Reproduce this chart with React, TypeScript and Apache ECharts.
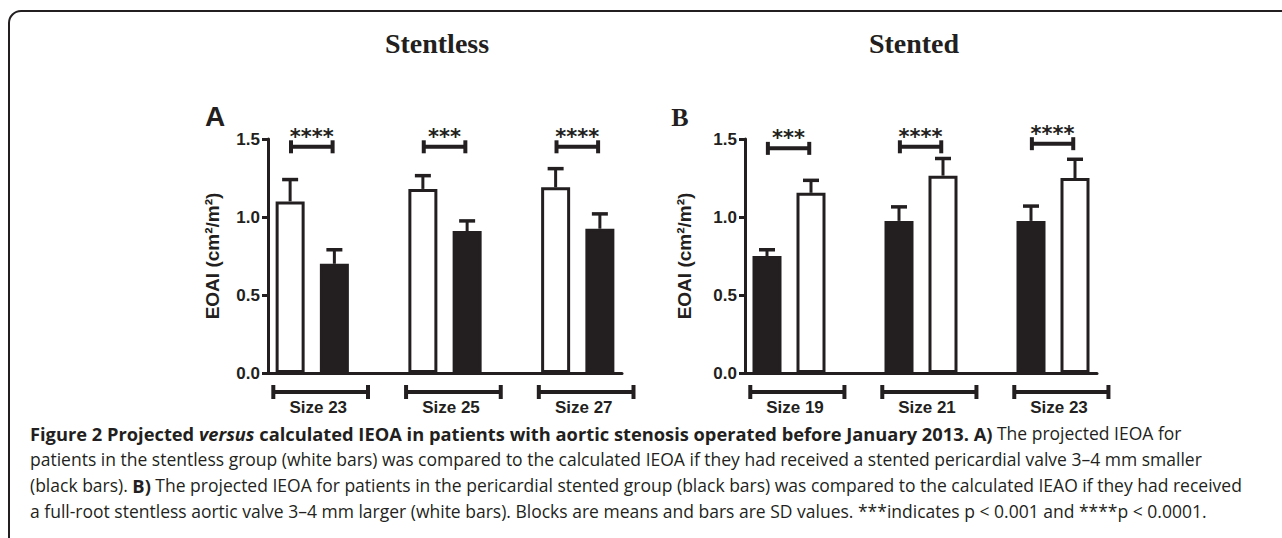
import React, { useEffect, useRef } from "react";
import * as echarts from "echarts";

const INK = "#231f20";

// Panel A – stentless (white = projected stentless, black = calculated stented)
const stentlessSizes = ["Size 23", "Size 25", "Size 27"];
const stentlessWhiteMean = [1.1, 1.18, 1.19];
const stentlessWhiteSD = [0.14, 0.085, 0.12];
const stentlessBlackMean = [0.7, 0.91, 0.925];
const stentlessBlackSD = [0.09, 0.065, 0.095];
const stentlessStars = ["****", "***", "****"];
const stentlessBracketY = [1.45, 1.45, 1.45];

// Panel B – stented (black = projected stented, white = calculated stentless)
const stentedSizes = ["Size 19", "Size 21", "Size 23"];
const stentedBlackMean = [0.75, 0.975, 0.975];
const stentedBlackSD = [0.04, 0.09, 0.095];
const stentedWhiteMean = [1.155, 1.265, 1.25];
const stentedWhiteSD = [0.08, 0.11, 0.12];
const stentedStars = ["***", "****", "****"];
const stentedBracketY = [1.44, 1.45, 1.47];

const yMin = 0;
const yMax = 1.5;
const yStep = 0.5;

const captionLines = [
  [
    ["b", "Figure 2 Projected "],
    ["bi", "versus"],
    ["b", " calculated IEOA in patients with aortic stenosis operated before January 2013. A)"],
    ["n", " The projected IEOA for"],
  ],
  [["n", "patients in the stentless group (white bars) was compared to the calculated IEOA if they had received a stented pericardial valve 3–4 mm smaller"]],
  [
    ["n", "(black bars). "],
    ["b", "B)"],
    ["n", " The projected IEOA for patients in the pericardial stented group (black bars) was compared to the calculated IEAO if they had received"],
  ],
  [["n", "a full-root stentless aortic valve 3–4 mm larger (white bars). Blocks are means and bars are SD values. ***indicates p < 0.001 and ****p < 0.0001."]],
];

const center = (i: number) => 1 + 3 * i;

function buildPanel(
  p: number,
  sizes: string[],
  leftIsWhite: boolean,
  whiteMean: number[],
  whiteSD: number[],
  blackMean: number[],
  blackSD: number[],
  stars: string[],
  bracketY: number[]
) {
  const wOff = leftIsWhite ? -0.5 : 0.5;
  const bOff = -wOff;
  const whiteData = whiteMean.map((m, i) => [center(i) + wOff, m]);
  const blackData = blackMean.map((m, i) => [center(i) + bOff, m]);
  const errData = [
    ...whiteMean.map((m, i) => [center(i) + wOff, m, whiteSD[i]]),
    ...blackMean.map((m, i) => [center(i) + bOff, m, blackSD[i]]),
  ];
  const sigData = sizes.map((_, i) => [center(i), bracketY[i], i]);
  const grpData = sizes.map((_, i) => [center(i), 0]);
  const common = { xAxisIndex: p, yAxisIndex: p };
  return [
    {
      ...common,
      type: "bar",
      data: whiteData,
      barWidth: 29,
      barGap: "-100%",
      itemStyle: { color: "#ffffff", borderColor: INK, borderWidth: 3 },
      silent: true,
    },
    {
      ...common,
      type: "bar",
      data: blackData,
      barWidth: 29,
      barGap: "-100%",
      itemStyle: { color: INK, borderColor: INK, borderWidth: 3 },
      silent: true,
    },
    {
      ...common,
      type: "custom",
      clip: false,
      silent: true,
      encode: { x: 0, y: 1 },
      data: errData,
      renderItem: (params: any, api: any) => {
        const x = api.value(0);
        const m = api.value(1);
        const s = api.value(2);
        const p0 = api.coord([x, m]);
        const p1 = api.coord([x, m + s]);
        return {
          type: "group",
          children: [
            { type: "line", shape: { x1: p0[0], y1: p0[1], x2: p1[0], y2: p1[1] }, style: { stroke: INK, lineWidth: 3 } },
            { type: "line", shape: { x1: p1[0] - 8, y1: p1[1], x2: p1[0] + 8, y2: p1[1] }, style: { stroke: INK, lineWidth: 3.5 } },
          ],
        };
      },
    },
    {
      ...common,
      type: "custom",
      clip: false,
      silent: true,
      encode: { x: 0, y: 1 },
      data: sigData,
      renderItem: (params: any, api: any) => {
        const c = api.value(0);
        const yv = api.value(1);
        const idx = api.value(2);
        const a = api.coord([c - 0.48, yv]);
        const b = api.coord([c + 0.46, yv]);
        return {
          type: "group",
          children: [
            { type: "line", shape: { x1: a[0], y1: a[1], x2: b[0], y2: b[1] }, style: { stroke: INK, lineWidth: 4 } },
            { type: "line", shape: { x1: a[0], y1: a[1] - 6.5, x2: a[0], y2: a[1] + 6.5 }, style: { stroke: INK, lineWidth: 4 } },
            { type: "line", shape: { x1: b[0], y1: b[1] - 6.5, x2: b[0], y2: b[1] + 6.5 }, style: { stroke: INK, lineWidth: 4 } },
            {
              type: "text",
              x: (a[0] + b[0]) / 2,
              y: a[1] - 10,
              style: {
                text: stars[idx],
                fill: INK,
                font: "bold 21px 'DejaVu Sans'",
                align: "center",
                verticalAlign: "middle",
              },
            },
          ],
        };
      },
    },
    {
      ...common,
      type: "custom",
      clip: false,
      silent: true,
      encode: { x: 0, y: 1 },
      data: grpData,
      renderItem: (params: any, api: any) => {
        const c = api.value(0);
        const a = api.coord([c - 0.88, 0]);
        const b = api.coord([c + 1.26, 0]);
        const y = a[1] + 19;
        return {
          type: "group",
          children: [
            { type: "line", shape: { x1: a[0], y1: y, x2: b[0], y2: y }, style: { stroke: INK, lineWidth: 4 } },
            { type: "line", shape: { x1: a[0], y1: y - 7, x2: a[0], y2: y + 7 }, style: { stroke: INK, lineWidth: 4 } },
            { type: "line", shape: { x1: b[0], y1: y - 7, x2: b[0], y2: y + 7 }, style: { stroke: INK, lineWidth: 4 } },
          ],
        };
      },
    },
  ];
}

function xAxisFor(p: number, sizes: string[]) {
  return {
    type: "value",
    gridIndex: p,
    min: 0,
    max: 8,
    interval: 1,
    splitLine: { show: false },
    axisTick: { show: false },
    axisLine: { show: true, onZero: false, lineStyle: { color: INK, width: 3 } },
    axisLabel: {
      show: true,
      margin: 26,
      color: INK,
      fontFamily: "'Liberation Sans', Arial, sans-serif",
      fontWeight: "bold",
      fontSize: 17,
      padding: [0, 0, 0, 12],
      showMinLabel: true,
      showMaxLabel: true,
      formatter: (v: number) => {
        const i = (v - 1) / 3;
        return Number.isInteger(i) && sizes[i] ? sizes[i] : "";
      },
    },
  };
}

function yAxisFor(p: number, gap: number) {
  return {
    type: "value",
    gridIndex: p,
    min: yMin,
    max: yMax,
    interval: yStep,
    name: "EOAI (cm²/m²)",
    nameLocation: "middle",
    nameRotate: 90,
    nameGap: gap,
    nameTextStyle: {
      color: INK,
      fontFamily: "'Liberation Sans', Arial, sans-serif",
      fontWeight: "bold",
      fontSize: 19,
    },
    splitLine: { show: false },
    axisLine: { show: true, lineStyle: { color: INK, width: 3 } },
    axisTick: { show: true, length: 6, lineStyle: { color: INK, width: 3 } },
    axisLabel: {
      margin: 8,
      color: INK,
      fontFamily: "'Liberation Sans', Arial, sans-serif",
      fontWeight: "bold",
      fontSize: 17,
      formatter: (v: number) => v.toFixed(1),
    },
  };
}

const capFont = "'Open Sans', 'Noto Sans', sans-serif";
const capSize = 17.5;
const capBoldSize = 18.3;

function captionGraphics() {
  const ys = [436, 462, 488, 514];
  return captionLines.map((segs, li) => ({
    type: "text",
    left: 30,
    top: ys[li] - 12,
    style: {
      text: segs.map(([k, t]) => `{${k}|${t}}`).join(""),
      fill: INK,
      rich: {
        n: { fontFamily: capFont, fontSize: capSize, color: "#3a3a3a" },
        b: { fontFamily: capFont, fontSize: capBoldSize, fontWeight: "bold", color: INK },
        bi: { fontFamily: capFont, fontSize: capBoldSize, fontWeight: "bold", fontStyle: "italic", color: INK },
      },
    },
  }));
}

export default function App() {
  const ref = useRef<HTMLDivElement>(null);
  useEffect(() => {
    if (!ref.current) return;
    const chart = echarts.init(ref.current, undefined, { renderer: "svg" });
    const option: any = {
      animation: false,
      backgroundColor: "#ffffff",
      grid: [
        { left: 268, right: 660, top: 139, bottom: 165 },
        { left: 745, right: 185, top: 139, bottom: 165 },
      ],
      xAxis: [xAxisFor(0, stentlessSizes), xAxisFor(1, stentedSizes)],
      yAxis: [yAxisFor(0, 46), yAxisFor(1, 51)],
      series: [
        ...buildPanel(0, stentlessSizes, true, stentlessWhiteMean, stentlessWhiteSD, stentlessBlackMean, stentlessBlackSD, stentlessStars, stentlessBracketY),
        ...buildPanel(1, stentedSizes, false, stentedWhiteMean, stentedWhiteSD, stentedBlackMean, stentedBlackSD, stentedStars, stentedBracketY),
      ],
      graphic: [
        {
          type: "rect",
          shape: { x: 9, y: 11, width: 1320, height: 600, r: 12 },
          style: { fill: "none", stroke: INK, lineWidth: 2 },
          silent: true,
        },
        {
          type: "text",
          x: 437,
          y: 43,
          style: { text: "Stentless", fill: INK, font: "bold 28px 'Liberation Serif', 'Times New Roman', serif", align: "center", verticalAlign: "middle" },
        },
        {
          type: "text",
          x: 914,
          y: 43,
          style: { text: "Stented", fill: INK, font: "bold 28px 'Liberation Serif', 'Times New Roman', serif", align: "center", verticalAlign: "middle" },
        },
        {
          type: "text",
          x: 215,
          y: 116,
          style: { text: "A", fill: INK, font: "bold 28px 'Liberation Sans', Arial, sans-serif", align: "center", verticalAlign: "middle" },
        },
        {
          type: "text",
          x: 680,
          y: 117,
          style: { text: "B", fill: INK, font: "bold 26px 'Liberation Serif', 'Times New Roman', serif", align: "center", verticalAlign: "middle" },
        },
        ...captionGraphics(),
      ],
    };
    chart.setOption(option);
    return () => chart.dispose();
  }, []);
  return (
    <div
      ref={ref}
      style={{ position: "absolute", left: 0, top: 0, width: 1282, height: 538, background: "#fff" }}
    />
  );
}
